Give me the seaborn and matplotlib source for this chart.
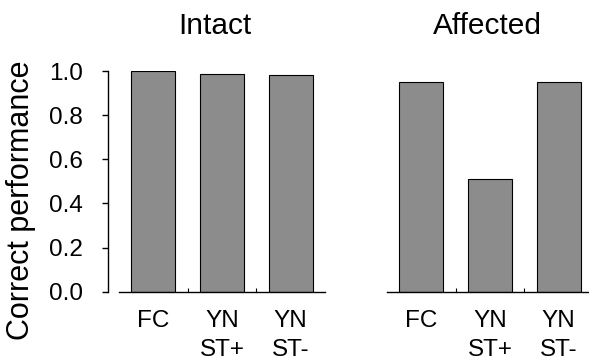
import matplotlib
matplotlib.use("Agg")
import matplotlib.pyplot as plt
from matplotlib.ticker import FixedLocator, NullFormatter
import seaborn as sns
import pandas as pd

categories = ["FC", "YN\nST+", "YN\nST-"]
intact = [1.0, 0.985, 0.98]
affected = [0.95, 0.51, 0.95]
panel_titles = ["Intact", "Affected"]
y_ticks = [0.0, 0.2, 0.4, 0.6, 0.8, 1.0]

sns.set_style("ticks")
plt.rcParams["font.family"] = ["Liberation Sans", "DejaVu Sans"]
plt.rcParams["text.color"] = "black"
plt.rcParams["axes.labelcolor"] = "black"
plt.rcParams["xtick.color"] = "black"
plt.rcParams["ytick.color"] = "black"

W, H = 589, 360
fig = plt.figure(figsize=(W / 100, H / 100), dpi=100)

def px_axes(x0, x1, y_top, y_bot):
    return fig.add_axes([x0 / W, 1 - y_bot / H, (x1 - x0) / W, (y_bot - y_top) / H])

ax1 = px_axes(119, 325, 71, 291.7)
ax2 = px_axes(387, 593, 71, 291.7)

bar_color = "#8c8c8c"
for ax, vals, title, tx in [(ax1, intact, panel_titles[0], 0.464),
                            (ax2, affected, panel_titles[1], 0.488)]:
    df = pd.DataFrame({"cond": categories, "val": vals})
    sns.barplot(data=df, x="cond", y="val", ax=ax, color=bar_color, saturation=1,
                edgecolor="black", linewidth=0.8, width=0.64)
    ax.set_xlim(-0.5, 2.5)
    ax.set_ylim(0, 1.0)
    ax.set_xlabel("")
    ax.set_facecolor("none")
    ax.set_title(title, fontsize=21.5, x=tx, pad=27, color="black")
    ax.tick_params(axis="x", which="major", length=0, pad=13, labelsize=17.5,
                   labelcolor="black")
    for lab in ax.get_xticklabels():
        lab.set_linespacing(1.45)
    ax.xaxis.set_minor_locator(FixedLocator([0.5, 1.5]))
    ax.xaxis.set_minor_formatter(NullFormatter())
    ax.tick_params(axis="x", which="minor", direction="in", length=3, width=0.8, color="black")
    ax.spines["top"].set_visible(False)
    ax.spines["right"].set_visible(False)
    ax.spines["bottom"].set_linewidth(1.0)
    ax.spines["bottom"].set_color("black")

ax1.spines["left"].set_position(("outward", 8))
ax1.spines["left"].set_linewidth(1.0)
ax1.spines["left"].set_color("black")
ax1.set_yticks(y_ticks)
ax1.set_yticklabels([f"{t:.1f}" for t in y_ticks])
ax1.tick_params(axis="y", length=4, width=1.0, pad=14, labelsize=17.5, color="black",
                labelcolor="black")
ax1.set_ylabel("Correct performance", fontsize=22, va="center", color="black")
ax1.yaxis.set_label_coords((21.5 - 119) / 206, 1 - (200 - 71) / (291.7 - 71))

ax2.spines["left"].set_visible(False)
ax2.set_yticks([])
ax2.set_ylabel("")

fig.savefig("out.png", dpi=100)
